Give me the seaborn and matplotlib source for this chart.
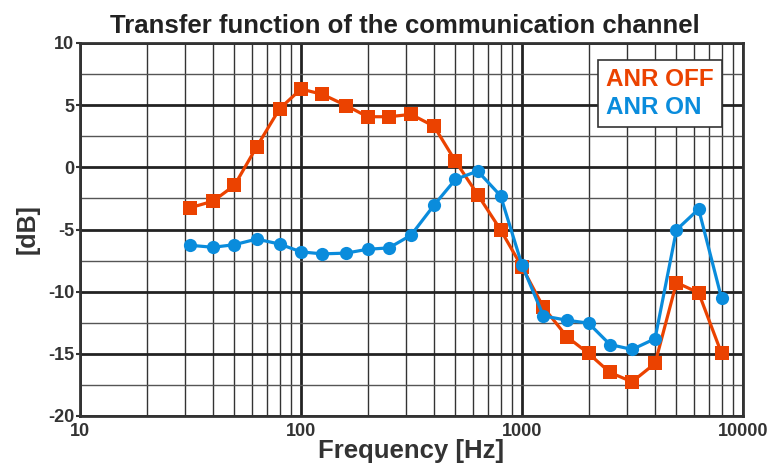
import matplotlib
matplotlib.use("Agg")
import matplotlib.pyplot as plt
import seaborn as sns
import pandas as pd
from matplotlib.ticker import LogLocator, FixedLocator, NullFormatter
from matplotlib.lines import Line2D

freqs = [31.5, 40, 50, 63, 80, 100, 125, 160, 200, 250, 315, 400, 500, 630, 800,
         1000, 1250, 1600, 2000, 2500, 3150, 4000, 5000, 6300, 8000]
anr_off = [-3.25, -2.72, -1.45, 1.65, 4.71, 6.30, 5.87, 4.97, 4.07, 4.07, 4.26, 3.30,
           0.49, -2.19, -5.03, -8.02, -11.26, -13.64, -14.97, -16.5, -17.25, -15.77,
           -9.27, -10.09, -14.97]
anr_on = [-6.27, -6.43, -6.22, -5.77, -6.17, -6.8, -6.96, -6.9, -6.59, -6.48, -5.45,
          -3.04, -0.97, -0.3, -2.29, -7.86, -11.95, -12.3, -12.53, -14.25, -14.65,
          -13.78, -5.03, -3.36, -10.54]
series_names = ["ANR OFF", "ANR ON"]
y_ticks = [-20, -15, -10, -5, 0, 5, 10]
x_ticks = [10, 100, 1000, 10000]
x_tick_labels = ["10", "100", "1000", "10000"]

c_off = "#EB4200"
c_on = "#0A8CDC"

df = pd.DataFrame({
    "freq": freqs * 2,
    "db": anr_off + anr_on,
    "series": [series_names[0]] * len(freqs) + [series_names[1]] * len(freqs),
})

sns.set_style("white")
plt.rcParams["font.family"] = ["Liberation Sans", "DejaVu Sans"]
plt.rcParams["font.weight"] = "bold"
plt.rcParams["axes.unicode_minus"] = False

fig = plt.figure(figsize=(7.75, 4.68), dpi=100)
ax = fig.add_axes([80 / 775, 1 - 416 / 468, (743 - 80) / 775, (416 - 43) / 468])

sns.lineplot(data=df, x="freq", y="db", hue="series", style="series",
             palette={series_names[0]: c_off, series_names[1]: c_on},
             markers={series_names[0]: "s", series_names[1]: "o"},
             dashes=False, linewidth=2.3, markersize=9.5, markeredgewidth=0,
             ax=ax, legend=False, zorder=5)

ax.set_xscale("log")
ax.set_xlim(10, 10000)
ax.set_ylim(-20, 10)

ax.xaxis.set_major_locator(FixedLocator(x_ticks))
ax.set_xticks(x_ticks)
ax.set_xticklabels(x_tick_labels)
ax.xaxis.set_minor_locator(LogLocator(base=10, subs=range(2, 10)))
ax.xaxis.set_minor_formatter(NullFormatter())
ax.set_yticks(y_ticks)
ax.set_yticks([-17.5, -12.5, -7.5, -2.5, 2.5, 7.5], minor=True)

ax.grid(which="major", axis="both", color="#222222", linewidth=2.0)
ax.grid(which="minor", axis="x", color="#333333", linewidth=1.0)
ax.grid(which="minor", axis="y", color="#555555", linewidth=1.0)
ax.set_axisbelow(True)

for s in ax.spines.values():
    s.set_color("#333333")
    s.set_linewidth(2)

ax.tick_params(axis="both", which="major", labelsize=13, colors="#333333",
               length=3, width=1.5, pad=1, direction="out", left=True, bottom=False)
ax.tick_params(axis="x", which="major", pad=2)
ax.tick_params(axis="both", which="minor", length=0)
for lab in ax.get_xticklabels() + ax.get_yticklabels():
    lab.set_fontweight("bold")
    lab.set_color("#333333")

ax.set_xlabel("Frequency [Hz]", fontsize=18.5, fontweight="bold", color="#333333", labelpad=-1)
ax.set_ylabel("[dB]", fontsize=18, fontweight="bold", color="#333333", labelpad=6)
ax.set_title("Transfer function of the communication channel", fontsize=18.5,
             fontweight="bold", color="#222222", pad=7, x=0.49)

handles = [Line2D([], [], linestyle="none"), Line2D([], [], linestyle="none")]
leg = ax.legend(handles, series_names, loc="upper right", bbox_to_anchor=(0.968, 0.955),
                handlelength=0, handletextpad=0, frameon=True, fancybox=False,
                prop={"family": "Liberation Sans", "weight": "bold", "size": 17.5},
                borderpad=0.32, labelspacing=0.22, framealpha=1, borderaxespad=0)
leg.get_frame().set_edgecolor("#333333")
leg.get_frame().set_linewidth(1.2)
for t, c in zip(leg.get_texts(), [c_off, c_on]):
    t.set_color(c)
leg.set_zorder(10)

fig.savefig("out.png", dpi=100)
